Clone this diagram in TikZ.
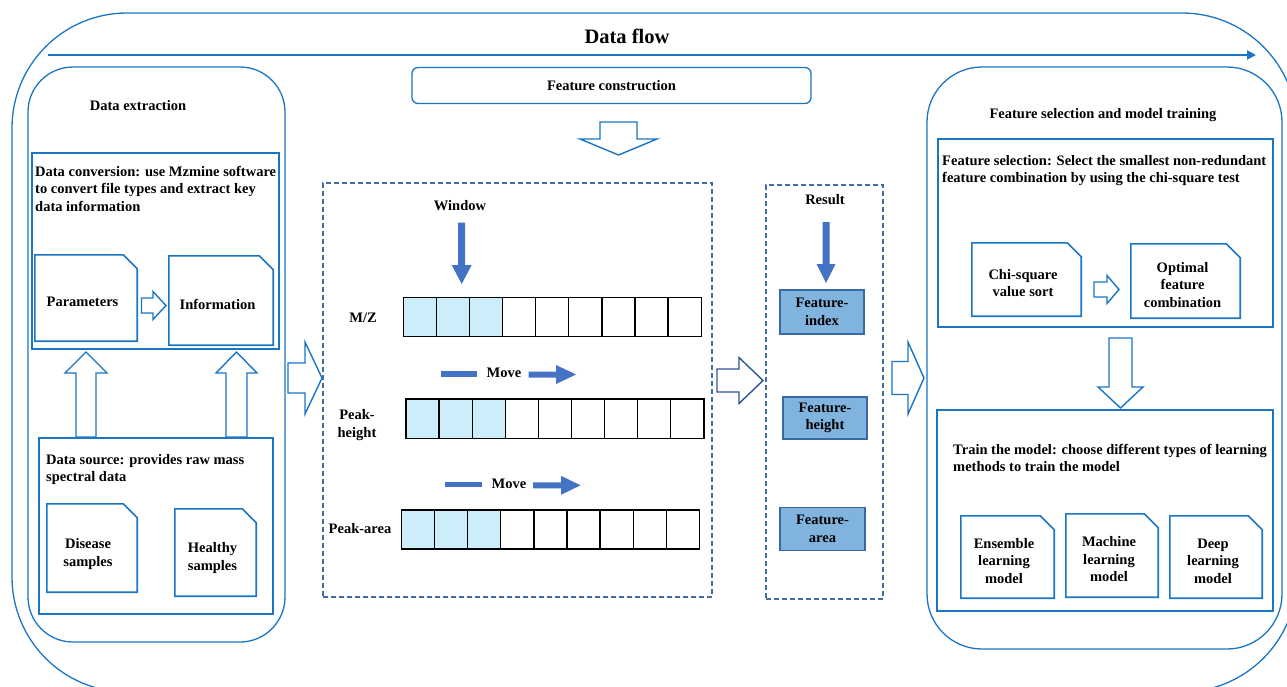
\documentclass[tikz,border=0pt]{standalone}
\usepackage{fontspec}
\setmainfont{Liberation Serif}
\usetikzlibrary{arrows.meta}
\definecolor{ob}{RGB}{26,117,196}
\definecolor{dashc}{RGB}{61,111,165}
\definecolor{mv}{RGB}{68,114,196}
\definecolor{cellc}{RGB}{204,238,250}
\definecolor{fboxc}{RGB}{128,180,223}
\definecolor{fborder}{RGB}{58,103,165}
\definecolor{darkarrow}{RGB}{47,85,151}
\tikzset{
  txt/.style={font=\fontsize{14.5}{17.5}\selectfont\bfseries, inner sep=0pt, align=center},
  ltxt/.style={txt, align=left, anchor=north west},
  panel/.style={draw=ob, line width=1.3pt},
  boxn/.style={draw=ob, line width=1.6pt},
  docn/.style={inner sep=0pt},
  docline/.style={draw=ob, line width=1.6pt},
  dashbox/.style={draw=dashc, line width=1.2pt, dash pattern=on 5pt off 3pt},
  blk/.style={draw=ob, line width=1.4pt, fill=white, line join=miter},
  featbox/.style={draw=fborder, line width=1.4pt, fill=fboxc, txt},
  cellstyle/.style={draw=black, line width=1.3pt},
}
% name, cx, cy, width, height, text, text x, text y
\newcommand\docnode[8]{%
  \node[docn, minimum width=#4, minimum height=#5] (#1) at (#2,#3) {};
  \draw[docline] (#1.south west) -- (#1.north west) -- ([xshift=-14pt]#1.north east)
     -- ([yshift=-14pt]#1.north east) -- (#1.south east) -- cycle;
  \node[txt] (#1T) at (#7,#8) {#6};}
% tail x, base x, tip x, yc, shaft half, head half
\newcommand\hblock[7][]{\draw[blk,#1] (#2,{#5-#6}) -- (#3,{#5-#6}) -- (#3,{#5-#7}) -- (#4,#5)
   -- (#3,{#5+#7}) -- (#3,{#5+#6}) -- (#2,{#5+#6}) -- cycle;}
% tail y, base y, tip y, xc, shaft half, head half
\newcommand\vblock[7][]{\draw[blk,#1] ({#5-#6},#2) -- ({#5-#6},#3) -- ({#5-#7},#3) -- (#5,#4)
   -- ({#5+#7},#3) -- ({#5+#6},#3) -- ({#5+#6},#2) -- cycle;}
% filled solid arrow, vertical: xc, top, base, tip, shaft half, head half
\newcommand\solidv[6]{\fill[mv] ({#1-#5},#2) -- ({#1-#5},#3) -- ({#1-#6},#3) -- (#1,#4)
   -- ({#1+#6},#3) -- ({#1+#5},#3) -- ({#1+#5},#2) -- cycle;}
% filled solid arrow, horizontal: start x, base x, tip x, yc, shaft half, head half
\newcommand\solidh[6]{\fill[mv] (#1,{#4-#5}) -- (#2,{#4-#5}) -- (#2,{#4-#6}) -- (#3,#4)
   -- (#2,{#4+#6}) -- (#2,{#4+#5}) -- (#1,{#4+#5}) -- cycle;}
% row of 9 cells: x0, y top, y bottom
\newcommand\cellrow[3]{%
  \foreach \i in {0,...,8}{%
    \ifnum\i<3 \def\cf{cellc}\else\def\cf{white}\fi
    \pgfmathsetmacro\xa{#1+33.1*\i}\pgfmathsetmacro\xb{#1+33.1*(\i+1)}
    \draw[cellstyle, fill=\cf] (\xa,#2) rectangle (\xb,#3);}}
\begin{document}
\begin{tikzpicture}[x=1pt,y=-1pt]
\useasboundingbox (0,0) rectangle (1287,686);
% outer frame
\begin{scope}
\clip (0,0) rectangle (1287,686);
\node[panel, rounded corners=115pt, minimum width=1285pt, minimum height=679pt, inner sep=0pt] (outer) at (654.5,352.5) {};
\end{scope}
% data flow
\coordinate (dfs) at (48,55);
\coordinate (dfe) at (1256,55);
\draw[ob, line width=2pt, -{Triangle[length=9pt,width=9pt]}] (dfs) -- (dfe);
\node[txt, font=\fontsize{20.5}{24}\selectfont\bfseries] (dflow) at (627,36) {Data flow};

% ---------- left panel ----------
\node[panel, rounded corners=45pt, minimum width=257pt, minimum height=575pt] (extract) at (156.5,354.5) {};
\node[txt] (extractT) at (138,106) {Data extraction};
\node[boxn, minimum width=247pt, minimum height=196pt] (conv) at (155.5,251) {};
\node[ltxt] (convT) at (35,166) {Data conversion: use Mzmine software\\to convert file types and extract key\\data information};
\docnode{param}{86}{298}{102pt}{86pt}{Parameters}{82.5}{302}
\docnode{info}{221}{300.5}{104pt}{89pt}{Information}{217.5}{304}
\hblock{141.5}{153}{166}{305.5}{7.5}{14}
\node[boxn, minimum width=234pt, minimum height=176pt] (src) at (156,526) {};
\node[ltxt] (srcT) at (46,454) {Data source: provides raw mass\\spectral data};
\docnode{disease}{92}{548}{90pt}{88pt}{Disease\\samples}{88}{554}
\docnode{healthy}{215.5}{552.5}{81pt}{87pt}{Healthy\\samples}{212.5}{558}
\vblock{437}{373}{352}{86}{10}{21}
\vblock{437}{373}{352}{236.5}{10.5}{20.5}
% arrow to centre
\hblock{288}{305}{322}{378}{15}{36}

% ---------- centre ----------
\node[panel, rounded corners=6pt, minimum width=399pt, minimum height=36pt, txt] (fc) at (611.5,85.5) {Feature construction};
\vblock{122}{139}{155}{618.5}{18.5}{38.5}
\node[dashbox, minimum width=389pt, minimum height=414pt] (centre) at (517.5,390) {};
\node[txt] (window) at (460,206) {Window};
\solidv{461.7}{222.7}{265}{284}{3.5}{10}
\node[txt] (mz) at (363,318) {M/Z};
\cellrow{403.3}{297.5}{336.5}
\fill[mv] (440.5,370.7) rectangle (477,376.7);
\node[txt] (move1) at (504,373) {Move};
\solidh{528.5}{556}{576}{374.5}{3}{9.5}
\node[txt] (ph) at (357,425) {Peak-\\height};
\cellrow{406}{399}{438.5}
\fill[mv] (445.4,481.7) rectangle (482,487.2);
\node[txt] (move2) at (509,484) {Move};
\solidh{533}{561}{580.5}{485.3}{3}{9.5}
\node[txt] (pa) at (360,529) {Peak-area};
\cellrow{401.5}{510}{549}
% arrow to result
\hblock[draw=darkarrow]{717}{739}{763}{380.5}{11.5}{23}

% ---------- result ----------
\node[dashbox, minimum width=117pt, minimum height=414pt] (result) at (824.5,392) {};
\node[txt] (resT) at (825,200) {Result};
\solidv{826}{222}{264}{283}{3.5}{9.5}
\node[featbox, minimum width=84pt, minimum height=44pt] (fi) at (822,312) {Feature-\\index};
\node[featbox, minimum width=84pt, minimum height=42pt] (fh) at (825,418) {Feature-\\height};
\node[featbox, minimum width=85pt, minimum height=43pt] (fa) at (822.5,529) {Feature-\\area};
% arrow to right panel
\hblock{892}{908}{924}{378}{16.5}{36}

% ---------- right panel ----------
\node[panel, rounded corners=55pt, minimum width=355pt, minimum height=582pt] (train) at (1104.5,358) {};
\node[txt] (trainT) at (1103,115) {Feature selection and model training};
\node[boxn, minimum width=335pt, minimum height=188pt] (fs) at (1105.5,233) {};
\node[ltxt] (fsT) at (942,155) {Feature selection: Select the smallest non-redundant\\feature combination by using the chi-square test};
\docnode{chi}{1026.5}{279.5}{109pt}{73pt}{Chi-square\\value sort}{1023}{283}
\docnode{opt}{1185.5}{281}{109pt}{74pt}{Optimal\\feature\\combination}{1182.5}{285}
\hblock{1094}{1107}{1119}{289.5}{7.5}{14}
\vblock{338}{387}{408}{1120.5}{11.5}{22.5}
\node[boxn, minimum width=336pt, minimum height=201pt] (tm) at (1105,510.5) {};
\node[ltxt] (tmT) at (953,444) {Train the model: choose different types of learning\\methods to train the model};
\docnode{ens}{1007.5}{557}{93pt}{82pt}{Ensemble\\learning\\model}{1004}{561}
\docnode{mach}{1112}{555.5}{92pt}{83pt}{Machine\\learning\\model}{1109}{559.5}
\docnode{deep}{1216}{557}{92pt}{82pt}{Deep\\learning\\model}{1213}{561}
\end{tikzpicture}
\end{document}
